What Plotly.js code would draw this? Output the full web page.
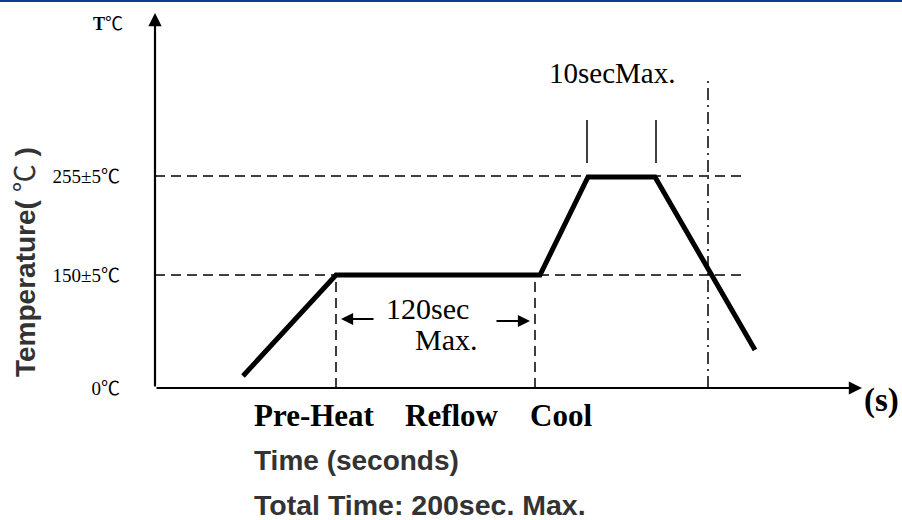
<!DOCTYPE html>
<html>
<head>
<meta charset="utf-8">
<script src="https://cdn.plot.ly/plotly-3.0.1.min.js"></script>
<style>html,body{margin:0;padding:0;background:#fff;}#chart{width:902px;height:520px;}</style>
</head>
<body>
<div id="chart"></div>
<script>
// Schematic reflow profile, in diagram units (x: time axis units, y: temperature axis units)
const profileX = [88, 181, 385, 433, 500, 600];
const profileY = [12, 113, 113, 211, 211, 38];
const levelVals = [0, 113, 212];
const levelLabels = ['0℃', '150±5℃', '255±5℃'];
const phaseBounds = [181, 380];      // end of pre-heat, end of reflow (120 sec max window)
const peakWindow = [432, 501];       // 10 sec max at peak
const coolMark = 553;                // total time marker
const phaseLabels = ['Pre-Heat', 'Reflow', 'Cool'];
const xMax = 707, yMax = 375;

const serif = 'Liberation Serif, Noto Sans CJK JP, serif';
const sans = 'Liberation Sans, Noto Sans CJK JP, sans-serif';
const cjk = s => s.replace(/℃/g, '<span style="font-family:Noto Sans CJK JP;font-weight:normal">℃</span>');

const shapes = [];
[levelVals[1], levelVals[2]].forEach(v => shapes.push({
  type: 'line', xref: 'x', yref: 'y', x0: 0, x1: 590, y0: v, y1: v,
  line: {color: '#000', width: 1.5, dash: '10px,6px'}
}));
phaseBounds.forEach(v => shapes.push({
  type: 'line', xref: 'x', yref: 'y', x0: v, x1: v, y0: 0, y1: levelVals[1],
  line: {color: '#000', width: 1.5, dash: '10px,6px'}
}));
shapes.push({type: 'line', xref: 'x', yref: 'y', x0: coolMark, x1: coolMark, y0: 0, y1: 308,
  line: {color: '#000', width: 1.5, dash: '12px,5px,2px,5px'}});
peakWindow.forEach(v => shapes.push({
  type: 'line', xref: 'x', yref: 'y', x0: v, x1: v, y0: 225, y1: 268,
  line: {color: '#000', width: 1.5}
}));
shapes.push({type: 'line', xref: 'paper', yref: 'paper', x0: -0.22, x1: 1.06, y0: 1.032, y1: 1.032,
  line: {color: '#0b3d8c', width: 2}});

const px = p => (p - 155) / xMax;
const py = p => (388 - p) / yMax;

const arrow = (x, y, ax, ay, size, w) => ({x, y, ax, ay, xref: 'x', yref: 'y', axref: 'x', ayref: 'y',
  text: '', showarrow: true, arrowhead: 2, arrowsize: size, arrowwidth: w, arrowcolor: '#000', standoff: 0});
const label = (x, y, text, font, extra) => Object.assign({x, y, xref: 'paper', yref: 'paper', text,
  showarrow: false, xanchor: 'center', yanchor: 'middle', font}, extra || {});

const annotations = [
  arrow(0, yMax, 0, 0, 1.2, 2.2),
  arrow(xMax, 0, 0, 0, 1.2, 2.2),
  arrow(186, 69, 220, 69, 1.1, 2.2),
  arrow(375, 67, 340, 67, 1.1, 2.2),
  label(px(427), py(308), '120sec', {family: serif, size: 30, color: '#000'}),
  label(px(446), py(339), 'Max.', {family: serif, size: 30, color: '#000'}),
  label(px(612), py(73), '10secMax.', {family: serif, size: 29, color: '#000'}),
  label(px(108), py(22), '<b>T' + cjk('℃') + '</b>', {family: serif, size: 18, color: '#000'}),
  label(px(862), py(400), '<b>(s)</b>', {family: serif, size: 33, color: '#000'}, {xanchor: 'left'}),
  label(px(23), py(262), '<b>' + cjk('Temperature( ℃ )') + '</b>', {family: sans, size: 28, color: '#333'}, {textangle: -90}),
  label(px(252), py(460), '<b>Time (seconds)</b>', {family: sans, size: 28, color: '#333'}, {xanchor: 'left'}),
  label(px(252), py(505), '<b>Total Time: 200sec. Max.</b>', {family: sans, size: 28.5, color: '#333'}, {xanchor: 'left'})
];
const phaseLeft = [252, 403, 528];
phaseLabels.forEach((t, i) => annotations.push(
  label(px(phaseLeft[i]), py(415), '<b>' + t + '</b>', {family: serif, size: 31, color: '#000'}, {xanchor: 'left'})
));

const data = [{
  x: profileX, y: profileY, type: 'scatter', mode: 'lines',
  line: {color: '#000', width: 5}, hoverinfo: 'skip', showlegend: false
}];

const layout = {
  width: 902, height: 520,
  margin: {l: 155, r: 40, t: 13, b: 132},
  paper_bgcolor: '#fff', plot_bgcolor: '#fff',
  showlegend: false,
  xaxis: {range: [0, xMax], showgrid: false, zeroline: false, showline: false,
    showticklabels: false, ticks: '', fixedrange: true},
  yaxis: {range: [0, yMax], showgrid: false, zeroline: false, showline: false,
    tickvals: levelVals, ticktext: levelLabels.map(cjk), ticks: '', ticklabelstandoff: 34,
    tickfont: {family: serif, size: 19, color: '#000'}, fixedrange: true},
  shapes: shapes,
  annotations: annotations
};

Plotly.newPlot('chart', data, layout, {staticPlot: true});
</script>
</body>
</html>
